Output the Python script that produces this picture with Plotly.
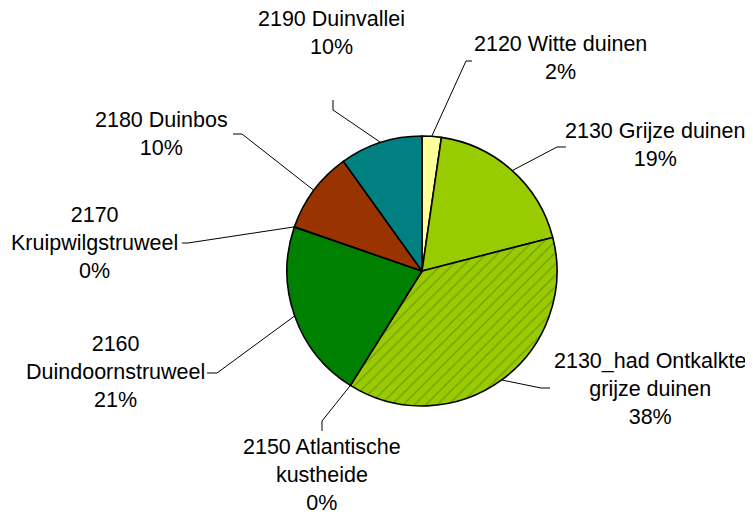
import math
import plotly.graph_objects as go

# ==========================================
# DATA
# ==========================================
codes = ["2120", "2130", "2130_had", "2150", "2160", "2170", "2180", "2190"]
names = ["Witte duinen", "Grijze duinen", "Ontkalkte grijze duinen",
         "Atlantische kustheide", "Duindoornstruweel", "Kruipwilgstruweel",
         "Duinbos", "Duinvallei"]
shares = [2.3, 18.7, 37.9, 0.0, 21.4, 0.0, 9.8, 9.9]

# label text as it is wrapped in the picture
label_text = [
    "2120 Witte duinen<br>2%",
    "2130 Grijze duinen<br>19%",
    "2130_had Ontkalkte<br>grijze duinen<br>38%",
    "2150 Atlantische<br>kustheide<br>0%",
    "2160<br>Duindoornstruweel<br>21%",
    "2170<br>Kruipwilgstruweel<br>0%",
    "2180 Duinbos<br>10%",
    "2190 Duinvallei<br>10%",
]

SLICE_COLORS = ["#FFFF99", "#99CC00", "#99CC00", "#FFFFFF",
                "#008000", "#FFFFFF", "#993300", "#008080"]
SLICE_PATTERN = ["", "", "/", "", "", "", "", ""]

# ==========================================
# LAYOUT (pixel positions in the 753x515 window)
# ==========================================
WIN_W, WIN_H = 753, 515
PAGE_MARGIN = 8          # default body margin of the html page
W, H = WIN_W - PAGE_MARGIN, WIN_H - PAGE_MARGIN
CX, CY, R = 422, 271, 135

# label centre, then the leader elbow points from label towards the pie
LABEL_POS = [(560, 58), (655, 145), (650, 389), (322, 475),
             (115, 372), (94, 243), (161, 134), (331, 33)]
LEADER_PTS = [
    [(472, 61), (466, 61)],
    [(566, 147), (557, 147)],
    [(550, 388), (541, 388)],
    [(322, 431), (322, 421)],
    [(207, 373), (217, 373)],
    [(182, 243), (188, 243)],
    [(233, 134), (242, 134)],
    [(333, 100), (333, 110)],
]


def px(x, y):
    # window pixels -> paper coordinates
    return (x - PAGE_MARGIN) / W, 1 - (y - PAGE_MARGIN) / H


x0, y1 = px(CX - R, CY - R)
x1, y0 = px(CX + R, CY + R)

fig = go.Figure()
fig.add_trace(go.Pie(
    labels=[f"{c} {n}" for c, n in zip(codes, names)],
    values=shares,
    sort=False,
    direction="clockwise",
    rotation=0,
    textinfo="none",
    hoverinfo="label+percent",
    showlegend=False,
    marker=dict(
        colors=SLICE_COLORS,
        line=dict(color="#000000", width=1.6),
        pattern=dict(shape=SLICE_PATTERN, fillmode="overlay",
                     fgcolor="#4F6420", size=8, solidity=0.15),
    ),
    domain=dict(x=[x0, x1], y=[y0, y1]),
))

# leader lines end at the outer edge, mid-angle of each slice
total = sum(shares)
cum = 0.0
shapes, annotations = [], []
for i, v in enumerate(shares):
    mid = (cum + v / 2) / total * 2 * math.pi
    cum += v
    ex, ey = CX + R * math.sin(mid), CY - R * math.cos(mid)
    pts = LEADER_PTS[i] + [(ex, ey)]
    path = "M " + " L ".join(f"{px(x, y)[0]:.5f},{px(x, y)[1]:.5f}" for x, y in pts)
    shapes.append(dict(type="path", path=path, xref="paper", yref="paper",
                       line=dict(color="#000000", width=1)))
    lx, ly = px(*LABEL_POS[i])
    annotations.append(dict(text=label_text[i], x=lx, y=ly, xref="paper", yref="paper",
                            showarrow=False, align="center", borderpad=0,
                            xanchor="center", yanchor="middle",
                            font=dict(size=21.5, color="#000000")))

fig.update_layout(
    width=W, height=H,
    margin=dict(l=0, r=0, t=0, b=0),
    paper_bgcolor="#FFFFFF",
    plot_bgcolor="#FFFFFF",
    font=dict(family="Liberation Sans, Arial, sans-serif", color="#000000"),
    shapes=shapes,
    annotations=annotations,
)

fig.write_html("out.html")
